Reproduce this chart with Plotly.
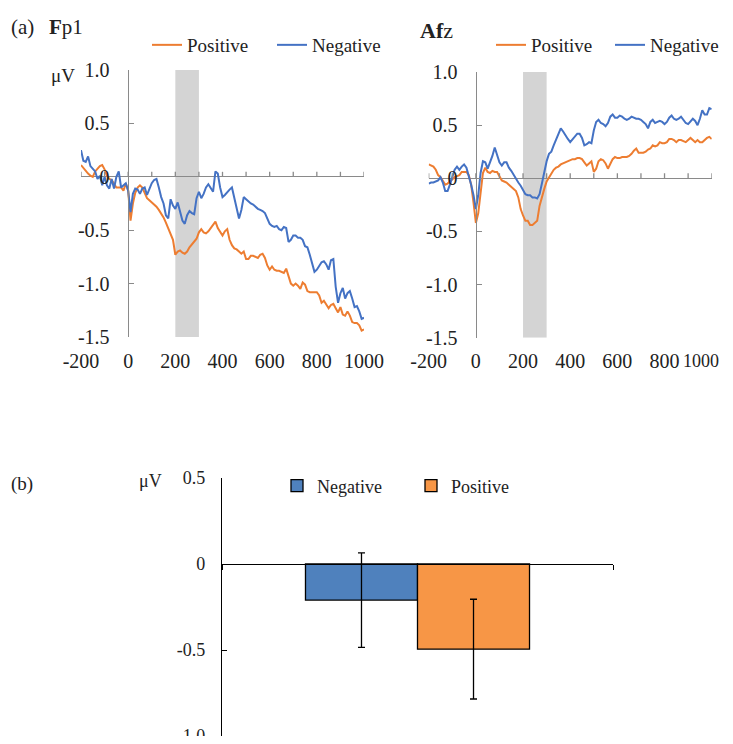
import plotly.graph_objects as go

# ---------------- data ----------------
TIME_MS = list(range(-200, 1001, 10))

FP1_POSITIVE = [0.11, 0.08, 0.06, 0.03, 0.01, 0.00, 0.05, 0.08, 0.10, 0.11,
                0.07, 0.01, -0.02, -0.03, -0.06, -0.10, -0.10, -0.10, -0.13, -0.06,
                -0.13, -0.41, -0.25, -0.15, -0.10, -0.08, -0.10, -0.16, -0.20, -0.22,
                -0.24, -0.26, -0.28, -0.31, -0.34, -0.38, -0.43, -0.48, -0.53, -0.59,
                -0.73, -0.70, -0.69, -0.71, -0.72, -0.70, -0.66, -0.63, -0.60, -0.58,
                -0.52, -0.49, -0.52, -0.53, -0.51, -0.48, -0.45, -0.42, -0.48, -0.52,
                -0.55, -0.51, -0.49, -0.59, -0.64, -0.67, -0.68, -0.70, -0.72, -0.70,
                -0.77, -0.77, -0.74, -0.74, -0.75, -0.76, -0.73, -0.72, -0.76, -0.83,
                -0.87, -0.84, -0.87, -0.88, -0.88, -0.89, -0.90, -0.86, -0.92, -1.00,
                -1.02, -1.00, -1.02, -1.05, -0.99, -1.01, -1.07, -1.08, -1.08, -1.08,
                -1.08, -1.11, -1.18, -1.16, -1.19, -1.23, -1.20, -1.19, -1.23, -1.27,
                -1.22, -1.29, -1.30, -1.26, -1.30, -1.36, -1.37, -1.37, -1.39, -1.44,
                -1.43]
FP1_NEGATIVE = [0.25, 0.15, 0.14, 0.19, 0.10, 0.07, 0.05, -0.02, 0.01, -0.08,
                0.00, -0.08, -0.11, -0.02, -0.11, 0.00, 0.05, -0.10, -0.08, -0.06,
                -0.13, -0.33, -0.16, -0.11, -0.12, -0.16, -0.11, -0.10, -0.17, -0.11,
                -0.06, -0.03, -0.02, -0.10, -0.19, -0.25, -0.36, -0.39, -0.21, -0.27,
                -0.30, -0.24, -0.33, -0.41, -0.44, -0.36, -0.32, -0.34, -0.35, -0.20,
                -0.14, -0.20, -0.16, -0.10, -0.07, -0.10, -0.14, 0.05, 0.03, -0.10,
                -0.19, -0.17, -0.14, -0.12, -0.10, -0.19, -0.28, -0.39, -0.31, -0.19,
                -0.21, -0.23, -0.25, -0.26, -0.28, -0.30, -0.31, -0.32, -0.34, -0.40,
                -0.44, -0.46, -0.47, -0.46, -0.49, -0.50, -0.47, -0.48, -0.61, -0.59,
                -0.55, -0.55, -0.57, -0.57, -0.59, -0.65, -0.66, -0.73, -0.81, -0.89,
                -0.87, -0.84, -0.80, -0.79, -0.82, -0.87, -0.78, -0.77, -1.03, -1.18,
                -1.09, -1.04, -1.14, -1.09, -1.07, -1.14, -1.22, -1.21, -1.26, -1.33,
                -1.32]
AFZ_POSITIVE = [0.13, 0.12, 0.11, 0.08, 0.03, 0.01, -0.03, -0.06, -0.05, -0.03,
                -0.01, 0.01, 0.02, 0.03, 0.06, 0.06, 0.06, 0.03, -0.06, -0.23,
                -0.42, -0.33, -0.11, 0.05, 0.10, 0.06, 0.05, 0.07, 0.06, 0.06,
                0.02, -0.02, -0.03, -0.04, -0.06, -0.08, -0.10, -0.12, -0.18, -0.29,
                -0.35, -0.40, -0.40, -0.44, -0.44, -0.42, -0.40, -0.26, -0.17, -0.10,
                -0.03, 0.01, 0.04, 0.08, 0.10, 0.11, 0.13, 0.14, 0.15, 0.16,
                0.17, 0.18, 0.18, 0.19, 0.19, 0.18, 0.15, 0.12, 0.14, 0.16,
                0.06, 0.09, 0.16, 0.18, 0.17, 0.14, 0.09, 0.13, 0.18, 0.20,
                0.19, 0.19, 0.20, 0.20, 0.20, 0.21, 0.23, 0.26, 0.28, 0.24,
                0.24, 0.24, 0.25, 0.27, 0.28, 0.31, 0.30, 0.31, 0.34, 0.33,
                0.33, 0.34, 0.37, 0.37, 0.36, 0.34, 0.36, 0.36, 0.35, 0.34,
                0.36, 0.38, 0.36, 0.34, 0.36, 0.34, 0.34, 0.36, 0.38, 0.39,
                0.37]
AFZ_NEGATIVE = [-0.05, -0.04, -0.04, -0.03, -0.02, 0.01, -0.04, -0.12, -0.12, -0.06,
                0.02, 0.08, 0.11, 0.08, 0.11, 0.13, 0.10, 0.03, -0.06, -0.16,
                -0.29, -0.16, 0.05, 0.16, 0.15, 0.09, 0.15, 0.21, 0.29, 0.23,
                0.15, 0.12, 0.15, 0.15, 0.10, 0.07, 0.03, -0.01, -0.04, -0.07,
                -0.11, -0.15, -0.16, -0.16, -0.18, -0.18, -0.19, -0.15, -0.05, 0.06,
                0.16, 0.23, 0.25, 0.31, 0.37, 0.43, 0.47, 0.44, 0.40, 0.37,
                0.34, 0.37, 0.40, 0.42, 0.42, 0.38, 0.31, 0.32, 0.34, 0.33,
                0.45, 0.53, 0.55, 0.52, 0.51, 0.49, 0.52, 0.58, 0.60, 0.57,
                0.57, 0.59, 0.58, 0.56, 0.55, 0.56, 0.58, 0.57, 0.56, 0.56,
                0.55, 0.53, 0.51, 0.47, 0.53, 0.55, 0.52, 0.53, 0.54, 0.53,
                0.51, 0.53, 0.57, 0.59, 0.56, 0.55, 0.56, 0.58, 0.55, 0.52,
                0.51, 0.54, 0.56, 0.54, 0.50, 0.56, 0.64, 0.60, 0.60, 0.66,
                0.65]

WINDOW_MS = [200, 300]
ERP_X_TICKS = [-200, 0, 200, 400, 600, 800, 1000]
ERP_X_LABELS = ["-200", "0", "200", "400", "600", "800", "1000"]
ERP_AXIS_TICKS = list(range(-200, 1001, 100))
ERP_Y_TICKS = [-1.5, -1.0, -0.5, 0, 0.5, 1.0]
ERP_Y_LABELS = ["-1.5", "-1.0", "-0.5", "0", "0.5", "1.0"]

BAR_CATEGORY = ["200-300 ms"]
BAR_CONDITIONS = ["Negative", "Positive"]
BAR_MEANS = [-0.21, -0.495]
BAR_ERRORS = [0.275, 0.29]
BAR_Y_TICKS = [-1.0, -0.5, 0, 0.5]
BAR_Y_LABELS = ["-1.0", "-0.5", "0", "0.5"]
BAR_Y_RANGE = [-1.0, 0.5]

# ---------------- style ----------------
PAGE_OFFSET = 8          # default body margin of the html page
W, H = 733 - PAGE_OFFSET, 744 - 2 * PAGE_OFFSET
LINE_ORANGE = "#ED7D31"
LINE_BLUE = "#4472C4"
BAR_BLUE = "#4F81BD"
BAR_ORANGE = "#F79646"
AXIS_GRAY = "#8a8a8a"
FONT = "Liberation Serif"


def px(x):
    return (x - PAGE_OFFSET) / W


def py(y):
    return 1 - (y - PAGE_OFFSET) / H


# bar panel: y domain and where the value 0 falls in it
bar_domain = [0, py(478)]
bar_zero_pos = bar_domain[0] + (0 - BAR_Y_RANGE[0]) / (BAR_Y_RANGE[1] - BAR_Y_RANGE[0]) * (
    bar_domain[1] - bar_domain[0])

fig = go.Figure()

# ERP panels
panels = [
    dict(xa="x", ya="y", leg="legend", pos=FP1_POSITIVE, neg=FP1_NEGATIVE),
    dict(xa="x2", ya="y2", leg="legend2", pos=AFZ_POSITIVE, neg=AFZ_NEGATIVE),
]
for p in panels:
    fig.add_trace(go.Scatter(x=TIME_MS, y=p["pos"], mode="lines", name="Positive",
                             line=dict(color=LINE_ORANGE, width=2),
                             xaxis=p["xa"], yaxis=p["ya"], legend=p["leg"]))
    fig.add_trace(go.Scatter(x=TIME_MS, y=p["neg"], mode="lines", name="Negative",
                             line=dict(color=LINE_BLUE, width=2),
                             xaxis=p["xa"], yaxis=p["ya"], legend=p["leg"]))
    # analysis window
    fig.add_shape(type="rect", xref=p["xa"], yref=p["ya"],
                  x0=WINDOW_MS[0], x1=WINDOW_MS[1],
                  y0=ERP_Y_TICKS[0], y1=ERP_Y_TICKS[-1],
                  fillcolor="#d4d4d4", line=dict(width=0), layer="below")
    # tick marks on the zero line
    for t in ERP_AXIS_TICKS:
        fig.add_shape(type="line", xref=p["xa"], yref=p["ya"],
                      x0=t, x1=t, ysizemode="pixel", yanchor=0, y0=0, y1=5,
                      line=dict(color=AXIS_GRAY, width=1.3), layer="above")

# bar panel
fig.add_trace(go.Bar(x=BAR_CATEGORY, y=[BAR_MEANS[0]], name=BAR_CONDITIONS[0],
                     marker=dict(color=BAR_BLUE, line=dict(color="black", width=1.3)),
                     error_y=dict(type="data", array=[BAR_ERRORS[0]], color="black",
                                  thickness=1.3, width=3.5),
                     xaxis="x3", yaxis="y3", legend="legend3"))
fig.add_trace(go.Bar(x=BAR_CATEGORY, y=[BAR_MEANS[1]], name=BAR_CONDITIONS[1],
                     marker=dict(color=BAR_ORANGE, line=dict(color="black", width=1.3)),
                     error_y=dict(type="data", array=[BAR_ERRORS[1]], color="black",
                                  thickness=1.3, width=3.5),
                     xaxis="x3", yaxis="y3", legend="legend3"))

erp_tickfont = dict(family=FONT, size=20, color="#222")


def erp_xaxis(domain, ticks, labels):
    return dict(domain=domain, range=[-200, 1000], tickvals=ticks,
                ticktext=labels, automargin=False, ticklabelstandoff=10,
                ticklabeloverflow="allow",
                showline=False, ticks="", showgrid=False, zeroline=False,
                tickfont=erp_tickfont, fixedrange=True)


def erp_yaxis(domain, position):
    return dict(domain=domain, range=[-1.5, 1.0], tickvals=ERP_Y_TICKS,
                ticktext=ERP_Y_LABELS, anchor="free", position=position,
                automargin=False,
                showline=True, linecolor=AXIS_GRAY, linewidth=1.3,
                ticks="inside", ticklen=5, tickcolor=AXIS_GRAY, tickwidth=1.3,
                showgrid=False, zeroline=True, zerolinecolor=AXIS_GRAY,
                zerolinewidth=1.3, tickfont=erp_tickfont, ticklabelstandoff=14,
                fixedrange=True)


legend_font = dict(family=FONT, size=19, color="#222")

fig.update_layout(
    width=W, height=H,
    margin=dict(l=0, r=0, t=0, b=0, autoexpand=False),
    paper_bgcolor="white", plot_bgcolor="rgba(0,0,0,0)",
    font=dict(family=FONT, color="#222"),
    barmode="group", bargap=0.427, bargroupgap=0,
    showlegend=True,
    xaxis=erp_xaxis([px(81), px(364)], ERP_X_TICKS, ERP_X_LABELS),
    yaxis=erp_yaxis([py(337), py(70)], px(127.7)),
    # last label of the right panel is drawn as an annotation so it stays inside the window
    xaxis2=erp_xaxis([px(428.7), px(711.7)], ERP_X_TICKS[:-1], ERP_X_LABELS[:-1]),
    yaxis2=erp_yaxis([py(337.7), py(72)], px(475.7)),
    xaxis3=dict(domain=[px(222), px(613)], type="category", anchor="free",
                position=bar_zero_pos, automargin=False,
                showline=True, linecolor="black", linewidth=1.3,
                ticks="outside", tickson="boundaries", ticklen=5, tickcolor="black",
                showticklabels=False, showgrid=False, zeroline=False, fixedrange=True),
    yaxis3=dict(domain=bar_domain, range=BAR_Y_RANGE,
                tickvals=BAR_Y_TICKS, ticklabeloverflow="allow",
                ticktext=BAR_Y_LABELS, anchor="x3", automargin=False,
                showline=True, linecolor="black",
                linewidth=1.3, ticks="inside", ticklen=5, tickcolor="black",
                showgrid=False, zeroline=False, ticklabelstandoff=12,
                tickfont=dict(family=FONT, size=18, color="#222"), fixedrange=True),
    legend=dict(orientation="h", x=px(147), y=py(45), xanchor="left", yanchor="middle",
                font=legend_font, bgcolor="rgba(0,0,0,0)", entrywidth=80,
                entrywidthmode="pixels", traceorder="normal", itemclick=False),
    legend2=dict(orientation="h", x=px(491), y=py(45), xanchor="left", yanchor="middle",
                 font=legend_font, bgcolor="rgba(0,0,0,0)", entrywidth=74,
                 entrywidthmode="pixels", traceorder="normal", itemclick=False),
    legend3=dict(orientation="h", x=px(277), y=py(486), xanchor="left", yanchor="middle",
                 font=dict(family=FONT, size=18, color="#222"), bgcolor="rgba(0,0,0,0)",
                 entrywidth=89, entrywidthmode="pixels",
                 traceorder="normal", itemclick=False),
    annotations=[
        dict(text=ERP_X_LABELS[-1], x=ERP_X_TICKS[-1], y=py(361), xref="x2", yref="paper",
             xanchor="right", yanchor="middle", xshift=9, showarrow=False,
             font=dict(family=FONT, size=18, color="#222")),
        dict(text="(a)", x=px(9), y=py(27), xref="paper", yref="paper",
             xanchor="left", yanchor="middle", showarrow=False,
             font=dict(family=FONT, size=21, color="#222")),
        dict(text="<b>F</b>p1", x=px(47), y=py(27), xref="paper", yref="paper",
             xanchor="left", yanchor="middle", showarrow=False,
             font=dict(family=FONT, size=21, color="#222")),
        dict(text="<b>Af</b>z", x=px(418), y=py(30), xref="paper", yref="paper",
             xanchor="left", yanchor="middle", showarrow=False,
             font=dict(family=FONT, size=22, color="#222")),
        dict(text="μV", x=px(49), y=py(75), xref="paper", yref="paper",
             xanchor="left", yanchor="middle", showarrow=False,
             font=dict(family=FONT, size=19, color="#222")),
        dict(text="(b)", x=px(9), y=py(484), xref="paper", yref="paper",
             xanchor="left", yanchor="middle", showarrow=False,
             font=dict(family=FONT, size=19, color="#222")),
        dict(text="μV", x=px(137), y=py(481), xref="paper", yref="paper",
             xanchor="left", yanchor="middle", showarrow=False,
             font=dict(family=FONT, size=18, color="#222")),
    ],
)

fig.write_html("out.html")
